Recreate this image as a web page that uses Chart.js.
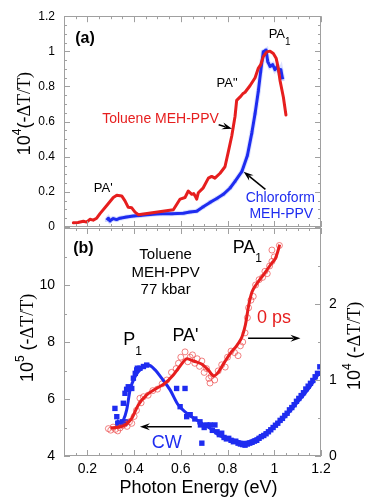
<!DOCTYPE html>
<html lang="en">
<head>
<meta charset="UTF-8">
<title>Photoinduced absorption spectra</title>
<script src="https://cdn.jsdelivr.net/npm/chart.js@4.4.0/dist/chart.umd.min.js"></script>
<style>
  body{ margin:0; background:#fff; }
  #wrap{ position:relative; width:374px; height:501px; }
  #wrap canvas{ position:absolute; left:0; top:0; }
</style>
</head>
<body>
<div id="wrap">
  <canvas id="chartA" width="374" height="501"></canvas>
  <canvas id="chartB" width="374" height="501"></canvas>
</div>
<script>
// ---- panel (a): Toluene vs Chloroform MEH-PPV, 10^4(-dT/T)
const tolA_x = [0.14,0.16,0.183,0.197,0.211,0.225,0.24,0.254,0.283,0.311,0.326,0.347,0.361,0.375,0.39,0.404,0.418,
  0.568,0.597,0.618,0.632,0.647,0.655,0.661,0.668,0.675,0.696,0.718,0.732,0.746,0.768,0.789,0.803,0.818,0.825,0.832,
  0.839,0.853,0.865,0.875,0.896,0.918,0.932,0.942,0.953,0.968,0.982,0.996,1.008,1.017,1.025,1.039,1.05];
const tolA_y = [0.024,0.026,0.033,0.028,0.044,0.039,0.05,0.076,0.122,0.168,0.181,0.177,0.149,0.112,0.109,0.085,0.070,
  0.098,0.159,0.168,0.205,0.186,0.19,0.177,0.159,0.195,0.223,0.278,0.288,0.278,0.306,0.343,0.426,0.518,0.574,0.629,
  0.721,0.739,0.758,0.767,0.804,0.850,0.905,0.924,0.970,0.997,1.001,0.988,0.961,0.905,0.831,0.739,0.638];
const chlA_x = [0.283,0.29,0.297,0.311,0.325,0.34,0.368,0.397,0.425,0.468,0.511,0.561,0.611,0.639,0.668,0.696,0.725,
  0.754,0.782,0.811,0.832,0.861,0.885,0.904,0.918,0.932,0.942,0.953,0.965,0.972,0.982,0.993,1.003,1.013,1.022,1.028,1.036];
const chlA_y = [0.039,0.05,0.035,0.048,0.042,0.05,0.057,0.062,0.066,0.071,0.076,0.076,0.078,0.085,0.09,0.115,0.140,
  0.162,0.186,0.222,0.260,0.315,0.407,0.536,0.647,0.776,0.887,0.997,1.007,0.942,0.914,0.924,0.896,0.914,0.878,0.896,0.841];
const ticksA_y = [0,0.2,0.4,0.6,0.8,1,1.2];

// ---- panel (b): 77 kbar, 0 ps (right axis, 10^4) and CW (left axis, 10^5)
const psFit_x = [0.30,0.332,0.361,0.39,0.418,0.454,0.497,0.532,0.568,0.597,0.627,0.654,0.689,0.718,0.741,0.762,0.784,
  0.812,0.841,0.862,0.876,0.891,0.905,0.926,0.948,0.969,0.99,1.005,1.015,1.023];
const psFit_y = [0.372,0.377,0.408,0.496,0.671,0.803,0.891,0.957,1.066,1.184,1.28,1.25,1.21,1.13,1.053,1.109,1.22,
  1.351,1.46,1.57,1.72,1.99,2.16,2.27,2.36,2.45,2.54,2.60,2.69,2.78];
const psPts_x = [0.29,0.30,0.31,0.32,0.33,0.34,0.35,0.36,0.37,0.38,0.39,0.40,0.41,0.425,0.43,0.44,0.46,0.48,0.50,0.52,
  0.54,0.56,0.58,0.59,0.60,0.618,0.63,0.64,0.65,0.66,0.67,0.68,0.69,0.70,0.71,0.72,0.725,0.73,0.745,0.76,0.775,0.79,
  0.80,0.815,0.83,0.845,0.855,0.865,0.875,0.885,0.89,0.90,0.91,0.92,0.935,0.95,0.96,0.97,0.98,0.99,1.00,0.99,1.022];
const psPts_y = [0.36,0.34,0.38,0.35,0.33,0.37,0.40,0.42,0.39,0.45,0.43,0.52,0.60,0.76,0.70,0.78,0.80,0.86,0.88,0.95,
  1.00,1.10,1.15,1.22,1.30,1.37,1.24,1.30,1.33,1.22,1.28,1.18,1.25,1.10,1.15,1.02,0.96,1.05,1.00,1.12,1.20,1.17,
  1.30,1.38,1.36,1.32,1.45,1.50,1.62,1.82,1.95,2.05,2.10,2.25,2.32,2.35,2.43,2.40,2.50,2.56,2.62,2.71,2.77];
const cwFit_x = [0.326,0.34,0.354,0.368,0.383,0.404,0.433,0.461,0.49,0.518,0.554,0.589,0.625,0.668,0.725,0.768,0.825,
  0.875,0.925,0.982,1.039,1.096,1.153,1.196];
const cwFit_y = [5.26,5.17,5.26,5.61,6.32,6.78,7.08,7.19,7.02,6.73,6.32,5.79,5.5,5.26,4.97,4.7,4.56,4.48,4.62,4.91,
  5.32,5.85,6.43,6.96];
const cwPts_x = [0.318,0.326,0.33,0.34,0.35,0.36,0.365,0.354,0.361,0.368,0.375,0.39,0.397,0.405,0.411,0.414,0.425,0.44,
  0.454,0.582,0.597,0.618,0.625,0.64,0.66,0.682,0.684,0.69,0.70,0.711,0.726,0.735,0.746,0.755,0.765,0.775,0.785,
  0.795,0.805,0.815,0.825,0.835,0.845,0.855,0.865,0.875,0.885,0.895,0.905,0.915,0.925,0.935,0.945,0.955,0.965,0.975,
  0.985,0.995,1.005,1.015,1.025,1.035,1.045,1.055,1.065,1.075,1.085,1.095,1.105,1.115,1.125,1.135,1.145,1.155,1.165,
  1.175,1.185,1.195];
const cwPts_y = [5.67,5.38,5.15,5.10,5.20,5.15,5.20,5.85,6.20,6.34,6.43,6.37,6.73,6.90,7.02,7.08,7.08,7.14,
  7.19,6.37,5.73,6.37,5.38,5.45,5.30,5.20,5.09,4.45,5.00,5.09,5.09,4.90,5.09,4.85,4.75,4.80,4.65,
  4.60,4.62,4.55,4.50,4.52,4.45,4.42,4.40,4.38,4.42,4.45,4.48,4.52,4.55,4.62,4.68,4.72,4.78,4.85,
  4.92,5.00,5.08,5.15,5.25,5.32,5.42,5.50,5.62,5.70,5.80,5.92,6.02,6.12,6.22,6.35,6.45,6.55,6.65,
  6.78,6.90,7.13];
const ticksB_left = [4,6,8,10];
const ticksB_right = [0,1,2];
const ticksX = [0.2,0.4,0.6,0.8,1,1.2];

const RED = '#e61e1e';
const BLUE = '#1e2cf0';
const FRAME = '#a0a0a0';
const SANS = "'Liberation Sans', Arial, sans-serif";
const SERIF = "'Liberation Serif', 'Times New Roman', serif";
Chart.defaults.font.family = SANS;
Chart.defaults.color = '#000';

function pts(xs, ys){ return xs.map((x, i) => ({x: x, y: ys[i]})); }
function fnt(size, fam, bold){ return (bold ? 'bold ' : '') + size + 'px ' + (fam || SANS); }
const plain = v => String(+Number(v).toFixed(2));

function richText(ctx, x, y, parts, align, color){
  ctx.save();
  ctx.fillStyle = color || '#000';
  ctx.textBaseline = 'middle';
  ctx.textAlign = 'left';
  let w = 0;
  parts.forEach(p => { ctx.font = p.font; p.w = ctx.measureText(p.t).width; w += p.w; });
  let cx = align === 'center' ? x - w / 2 : (align === 'right' ? x - w : x);
  parts.forEach(p => { ctx.font = p.font; ctx.fillText(p.t, cx, y + (p.dy || 0)); cx += p.w; });
  ctx.restore();
}
function vertText(ctx, x, y, parts){
  ctx.save();
  ctx.translate(x, y);
  ctx.rotate(-Math.PI / 2);
  richText(ctx, 0, 0, parts, 'center');
  ctx.restore();
}
function arrow(ctx, x1, y1, x2, y2){
  const a = Math.atan2(y2 - y1, x2 - x1), L = 10, W = 3.5;
  const c = Math.cos(a), s = Math.sin(a);
  ctx.save();
  ctx.strokeStyle = '#000'; ctx.fillStyle = '#000'; ctx.lineWidth = 1.5;
  ctx.beginPath(); ctx.moveTo(x1, y1); ctx.lineTo(x2 - c * L * 0.7, y2 - s * L * 0.7); ctx.stroke();
  ctx.beginPath();
  ctx.moveTo(x2, y2);
  ctx.lineTo(x2 - L * c + W * s, y2 - L * s - W * c);
  ctx.lineTo(x2 - L * 0.65 * c, y2 - L * 0.65 * s);
  ctx.lineTo(x2 - L * c - W * s, y2 - L * s + W * c);
  ctx.closePath(); ctx.fill();
  ctx.restore();
}
function frame(chart){
  const a = chart.chartArea, ctx = chart.ctx;
  ctx.save();
  ctx.strokeStyle = FRAME; ctx.lineWidth = 1;
  ctx.strokeRect(Math.round(a.left) + 0.5, Math.round(a.top) + 0.5,
    Math.round(a.right - a.left) - 1, Math.round(a.bottom - a.top) - 1);
  ctx.restore();
}
// inward tick marks along the sides of the plot box
function tickMarks(chart, id, sides, step, majorStep){
  const s = chart.scales[id], a = chart.chartArea, ctx = chart.ctx;
  const n = Math.round((s.max - s.min) / step);
  ctx.save();
  ctx.strokeStyle = FRAME; ctx.lineWidth = 1;
  ctx.beginPath();
  for (let i = 0; i <= n; i++){
    const v = s.min + i * step;
    const r = v / majorStep;
    const len = Math.abs(r - Math.round(r)) < 1e-6 ? 6 : 3;
    const p = Math.round(s.getPixelForValue(v)) + 0.5;
    sides.forEach(side => {
      if (side === 'bottom'){ ctx.moveTo(p, a.bottom); ctx.lineTo(p, a.bottom - len); }
      if (side === 'top'){ ctx.moveTo(p, a.top); ctx.lineTo(p, a.top + len); }
      if (side === 'left'){ ctx.moveTo(a.left, p); ctx.lineTo(a.left + len, p); }
      if (side === 'right'){ ctx.moveTo(a.right, p); ctx.lineTo(a.right - len, p); }
    });
  }
  ctx.stroke();
  ctx.restore();
}
function setTicks(list){ return scale => { scale.ticks = list.map(v => ({value: v})); }; }

const yTitle = (exp, gap) => [
  {t: '10', font: fnt(18)},
  {t: exp, font: fnt(12), dy: -7},
  {t: gap + '(-', font: fnt(18)},
  {t: '\u0394T/T)', font: fnt(18, SERIF)}
];

// ---------- chart (a)
const decorA = {
  id: 'decorA',
  afterDraw(chart){
    const ctx = chart.ctx, x = chart.scales.x, y = chart.scales.y, a = chart.chartArea;
    const P = (vx, vy) => [x.getPixelForValue(vx), y.getPixelForValue(vy)];
    frame(chart);
    tickMarks(chart, 'x', ['top', 'bottom'], 0.05, 0.2);
    tickMarks(chart, 'y', ['left', 'right'], 0.05, 0.2);
    let p;
    p = P(0.19, 1.073); richText(ctx, p[0], p[1], [{t: '(a)', font: fnt(16, SANS, true)}], 'center');
    p = P(0.268, 0.22); richText(ctx, p[0], p[1], [{t: "PA'", font: fnt(13)}], 'center');
    p = P(0.513, 0.614); richText(ctx, p[0], p[1], [{t: 'Toluene MEH-PPV', font: fnt(14)}], 'center', RED);
    p = P(0.798, 0.817); richText(ctx, p[0], p[1], [{t: 'PA"', font: fnt(13)}], 'center');
    p = P(0.976, 1.095); richText(ctx, p[0], p[1], [{t: 'PA', font: fnt(13)}, {t: '1', font: fnt(10), dy: 8}], 'left');
    p = P(1.026, 0.164); richText(ctx, p[0], p[1], [{t: 'Chloroform', font: fnt(14)}], 'center', BLUE);
    p = P(1.030, 0.072); richText(ctx, p[0], p[1], [{t: 'MEH-PPV', font: fnt(14)}], 'center', BLUE);
    let s = P(0.762, 0.582), e = P(0.819, 0.559); arrow(ctx, s[0], s[1], e[0], e[1]);
    s = P(0.962, 0.214); e = P(0.869, 0.315); arrow(ctx, s[0], s[1], e[0], e[1]);
    vertText(ctx, 25, (a.top + a.bottom) / 2 - 8, yTitle('4', ''));
  }
};

new Chart(document.getElementById('chartA'), {
  type: 'line',
  data: {
    datasets: [
      {label: 'Toluene MEH-PPV', data: pts(tolA_x, tolA_y), borderColor: RED, borderWidth: 3,
        pointRadius: 0, borderJoinStyle: 'round', borderCapStyle: 'round'},
      {label: 'Chloroform MEH-PPV', data: pts(chlA_x, chlA_y), borderColor: BLUE, borderWidth: 3,
        pointRadius: 0, borderJoinStyle: 'round'},
      {label: 'Chloroform points', data: pts(chlA_x, chlA_y), borderColor: 'rgba(120,140,255,0.25)', borderWidth: 5,
        pointStyle: 'rect', pointRadius: 2.6, pointBackgroundColor: 'rgba(120,140,255,0.35)', pointBorderWidth: 0}
    ]
  },
  options: {
    responsive: false,
    animation: false,
    layout: {padding: {top: 10, right: 53, bottom: 274, left: 0}},
    plugins: {legend: {display: false}, tooltip: {enabled: false}},
    scales: {
      x: {type: 'linear', min: 0.1, max: 1.2, ticks: {display: false},
        grid: {display: false, drawTicks: false}, border: {display: false},
        afterFit: s => { s.height = 0; }},
      y: {type: 'linear', min: 0, max: 1.2, afterBuildTicks: setTicks(ticksA_y),
        ticks: {font: {size: 12}, padding: 9, color: '#000', callback: plain},
        grid: {display: false, drawTicks: false}, border: {display: false},
        afterFit: s => { s.width = 64; }}
    }
  },
  plugins: [decorA]
});

// ---------- chart (b)
const decorB = {
  id: 'decorB',
  afterDraw(chart){
    const ctx = chart.ctx, x = chart.scales.x, yL = chart.scales.yL, a = chart.chartArea;
    const P = (vx, vy) => [x.getPixelForValue(vx), yL.getPixelForValue(vy)];
    frame(chart);
    tickMarks(chart, 'x', ['top', 'bottom'], 0.05, 0.2);
    tickMarks(chart, 'yL', ['left'], 1, 2);
    tickMarks(chart, 'yR', ['right'], 0.5, 1);
    let p;
    p = P(0.183, 11.26); richText(ctx, p[0], p[1], [{t: '(b)', font: fnt(16, SANS, true)}], 'center');
    p = P(0.535, 11.05); richText(ctx, p[0], p[1], [{t: 'Toluene', font: fnt(15)}], 'center');
    p = P(0.535, 10.42); richText(ctx, p[0], p[1], [{t: 'MEH-PPV', font: fnt(15)}], 'center');
    p = P(0.535, 9.82); richText(ctx, p[0], p[1], [{t: '77 kbar', font: fnt(15)}], 'center');
    p = P(0.822, 11.29); richText(ctx, p[0], p[1], [{t: 'PA', font: fnt(18)}, {t: '1', font: fnt(12), dy: 10}], 'left');
    p = P(0.999, 8.84); richText(ctx, p[0], p[1], [{t: '0 ps', font: fnt(18)}], 'center', RED);
    p = P(0.354, 8.07); richText(ctx, p[0], p[1], [{t: 'P', font: fnt(18)}, {t: '1', font: fnt(12), dy: 12}], 'left');
    p = P(0.62, 8.21); richText(ctx, p[0], p[1], [{t: "PA'", font: fnt(18)}], 'center');
    p = P(0.54, 4.47); richText(ctx, p[0], p[1], [{t: 'CW', font: fnt(18)}], 'center', BLUE);
    let s = P(0.888, 8.13), e = P(1.112, 8.13); arrow(ctx, s[0], s[1], e[0], e[1]);
    s = P(0.647, 5.03); e = P(0.425, 5.03); arrow(ctx, s[0], s[1], e[0], e[1]);
    vertText(ctx, 28, (a.top + a.bottom) / 2 - 4, yTitle('5', ' '));
    vertText(ctx, 355, (a.top + a.bottom) / 2 + 4, yTitle('4', ' '));
    richText(ctx, (a.left + a.right) / 2 + 6, 488, [{t: 'Photon Energy (eV)', font: fnt(18)}], 'center');
  }
};

new Chart(document.getElementById('chartB'), {
  type: 'line',
  data: {
    datasets: [
      {label: '0 ps fit', data: pts(psFit_x, psFit_y), yAxisID: 'yR', borderColor: RED, borderWidth: 3,
        pointRadius: 0, cubicInterpolationMode: 'monotone'},
      {label: 'CW fit', data: pts(cwFit_x, cwFit_y), yAxisID: 'yL', borderColor: BLUE, borderWidth: 3,
        pointRadius: 0, cubicInterpolationMode: 'monotone'},
      {label: '0 ps', data: pts(psPts_x, psPts_y), yAxisID: 'yR', showLine: false, pointStyle: 'circle',
        pointRadius: 3, pointBorderWidth: 0.8, pointBorderColor: 'rgba(235,70,70,0.85)',
        pointBackgroundColor: 'rgba(0,0,0,0)'},
      {label: 'CW', data: pts(cwPts_x, cwPts_y), yAxisID: 'yL', showLine: false, pointStyle: 'rect',
        pointRadius: 3.8, pointBorderWidth: 0, pointBackgroundColor: BLUE}
    ]
  },
  options: {
    responsive: false,
    animation: false,
    layout: {padding: {top: 228, right: 0, bottom: 0, left: 0}},
    plugins: {legend: {display: false}, tooltip: {enabled: false}},
    scales: {
      x: {type: 'linear', min: 0.1, max: 1.2, afterBuildTicks: setTicks(ticksX),
        ticks: {font: {size: 14}, padding: 5, color: '#000', maxRotation: 0, autoSkip: false, callback: plain},
        grid: {display: false, drawTicks: false}, border: {display: false},
        afterFit: s => { s.height = 45; }},
      yL: {type: 'linear', position: 'left', min: 4, max: 12, afterBuildTicks: setTicks(ticksB_left),
        ticks: {font: {size: 14}, padding: 9, color: '#000', callback: plain},
        grid: {display: false, drawTicks: false}, border: {display: false},
        afterFit: s => { s.width = 64; }},
      yR: {type: 'linear', position: 'right', min: 0, max: 3, afterBuildTicks: setTicks(ticksB_right),
        ticks: {font: {size: 14}, padding: 8, color: '#000', callback: plain},
        grid: {display: false, drawTicks: false}, border: {display: false},
        afterFit: s => { s.width = 53; }}
    }
  },
  plugins: [decorB]
});
</script>
</body>
</html>
